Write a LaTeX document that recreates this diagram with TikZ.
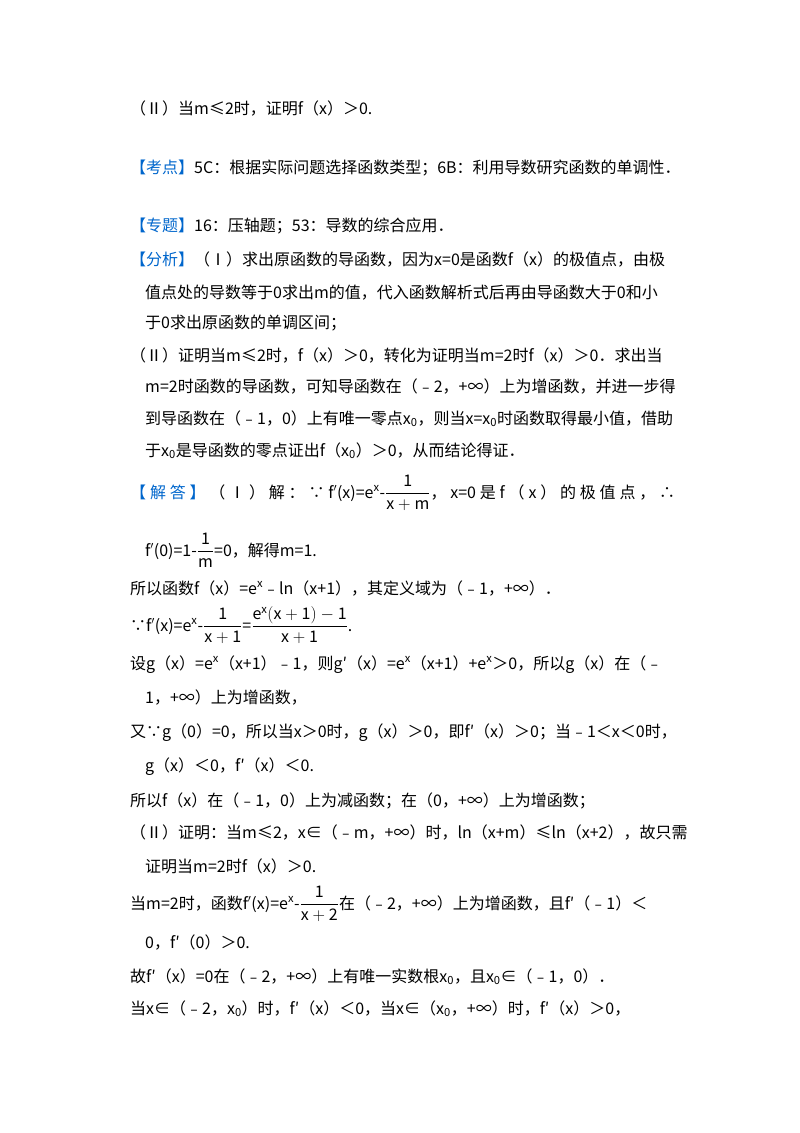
\documentclass[tikz,border=0pt]{standalone}
\usepackage{fontspec}
\setmainfont{Noto Sans CJK SC}
\definecolor{kb}{RGB}{0,102,204}
\newcommand{\kw}[1]{\textcolor{kb}{#1}}
\newcommand{\fr}[2]{$\displaystyle\frac{\mathrm{#1}}{\mathrm{#2}}$}
\begin{document}
\begin{tikzpicture}[x=1pt,y=-1pt,every node/.style={anchor=base west,inner sep=0pt,font=\fontsize{16}{19}\selectfont}]
\useasboundingbox (0,0) rectangle (800,1133);
\node (l1) at (130,114) {（Ⅱ）当m≤2时，证明f（x）＞0.};
\node (l2) at (130,173) {\kw{【考点】}5C：根据实际问题选择函数类型；6B：利用导数研究函数的单调性．};
\node (l3) at (130,231) {\kw{【专题】}16：压轴题；53：导数的综合应用．};
\node (l4) at (130,265) {\kw{【分析】}（Ⅰ）求出原函数的导函数，因为x=0是函数f（x）的极值点，由极};
\node (l5) at (145,298) {值点处的导数等于0求出m的值，代入函数解析式后再由导函数大于0和小};
\node (l6) at (145,328) {于0求出原函数的单调区间；};
\node (l7) at (130,361) {（Ⅱ）证明当m≤2时，f（x）＞0，转化为证明当m=2时f（x）＞0．求出当};
\node (l8) at (145,392) {m=2时函数的导函数，可知导函数在（﹣2，+∞）上为增函数，并进一步得};
\node (l9) at (145,424) {到导函数在（﹣1，0）上有唯一零点x\textsubscript{0}，则当x=x\textsubscript{0}时函数取得最小值，借助};
\node (l10) at (145,456) {于x\textsubscript{0}是导函数的零点证出f（x\textsubscript{0}）＞0，从而结论得证．};
\node (l11) at (130,498) {\makebox[545pt][s]{\kw{【\ 解\ 答\ 】}\ （\ Ⅰ\ ）\ 解\ ：\ ∵\ f$^{\prime}$(x)=e$^{\mathrm{x}}$-\fr{1}{x+m}，\ x=0\ 是\ f\ （\ x\ ）\ 的\ 极\ 值\ 点\ ，\ ∴}};
\node (l12) at (145,556) {f$^{\prime}$(0)=1-\fr{1}{m}=0，解得m=1.};
\node (l13) at (130,594) {所以函数f（x）=e\textsuperscript{x}﹣ln（x+1），其定义域为（﹣1，+∞）．};
\node (l14) at (130,631) {∵f$^{\prime}$(x)=e$^{\mathrm{x}}$-\fr{1}{x+1}=\fr{e^x(x+1)-1}{x+1}.};
\node (l15) at (130,669) {设g（x）=e\textsuperscript{x}（x+1）﹣1，则g′（x）=e\textsuperscript{x}（x+1）+e\textsuperscript{x}＞0，所以g（x）在（﹣};
\node (l16) at (145,703) {1，+∞）上为增函数，};
\node (l17) at (130,737) {又∵g（0）=0，所以当x＞0时，g（x）＞0，即f′（x）＞0；当﹣1＜x＜0时，};
\node (l18) at (145,771) {g（x）＜0，f′（x）＜0.};
\node (l19) at (130,806) {所以f（x）在（﹣1，0）上为减函数；在（0，+∞）上为增函数；};
\node (l20) at (130,838) {（Ⅱ）证明：当m≤2，x∈（﹣m，+∞）时，ln（x+m）≤ln（x+2），故只需};
\node (l21) at (145,872) {证明当m=2时f（x）＞0.};
\node (l22) at (130,909) {当m=2时，函数f$^{\prime}$(x)=e$^{\mathrm{x}}$-\fr{1}{x+2}在（﹣2，+∞）上为增函数，且f′（﹣1）＜};
\node (l23) at (145,948) {0，f′（0）＞0.};
\node (l24) at (130,982) {故f′（x）=0在（﹣2，+∞）上有唯一实数根x\textsubscript{0}，且x\textsubscript{0}∈（﹣1，0）．};
\node (l25) at (130,1014) {当x∈（﹣2，x\textsubscript{0}）时，f′（x）＜0，当x∈（x\textsubscript{0}，+∞）时，f′（x）＞0，};
\end{tikzpicture}
\end{document}
